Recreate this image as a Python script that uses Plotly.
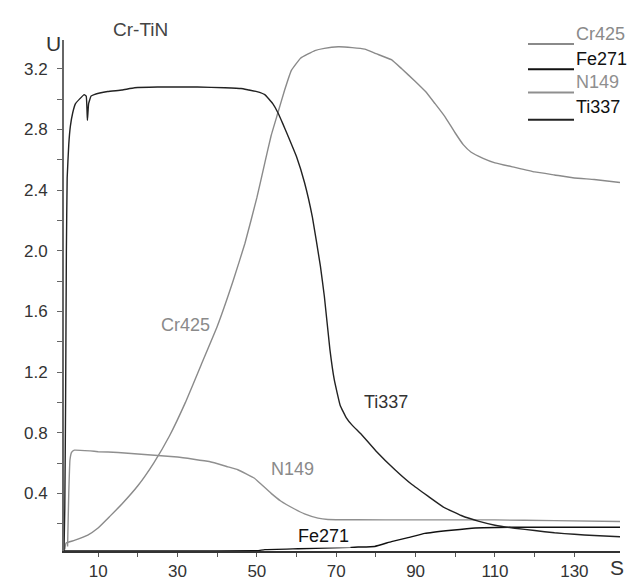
import plotly.graph_objects as go

# ---------------- data ----------------
ti_x = [1.4, 1.6, 1.8, 2.0, 2.2, 2.6, 3.0, 3.6, 4.3, 5.3, 6.5, 7.0, 7.3, 7.6, 8.2, 9.0, 12.4, 16, 19.2, 25, 29.3, 35, 41.9,
        46, 48, 50, 52, 54, 55.3, 56.5, 57.8, 60, 62, 64, 66, 67, 68.4, 69.5, 71, 72.5, 74, 76.3, 80, 84.8, 89, 93.2,
        97, 101.5, 106, 110, 115, 120, 125, 130, 135, 141.5]
ti_y = [0.02, 0.3, 1.0, 2.0, 2.48, 2.7, 2.82, 2.91, 2.97, 3.0, 3.03, 3.02, 2.86, 2.97, 3.02, 3.03, 3.05, 3.06, 3.075, 3.08,
        3.08, 3.08, 3.075, 3.07, 3.06, 3.05, 3.03, 2.97, 2.91, 2.84, 2.76, 2.62, 2.45, 2.22, 1.9, 1.7, 1.35, 1.15, 0.98,
        0.9, 0.85, 0.79, 0.68, 0.556, 0.46, 0.38, 0.31, 0.254, 0.215, 0.19, 0.17, 0.155, 0.14, 0.13, 0.122, 0.114]

cr_x = [1.6, 1.9, 4, 7.4, 9.9, 13, 16, 20, 24, 28, 32, 36, 40, 44, 47, 50, 52, 53.6, 55.3, 57, 58.7, 61, 64.6, 67,
        70.5, 74, 77.2, 80, 83.9, 86.5, 89.8, 92.5, 94.9, 97.5, 99.9, 102, 104, 107, 110, 115, 120, 125, 130, 135, 141.5]
cr_y = [0.03, 0.072, 0.09, 0.125, 0.17, 0.25, 0.33, 0.45, 0.6, 0.78, 1.0, 1.25, 1.5, 1.8, 2.05, 2.35, 2.58, 2.76, 2.91,
        3.06, 3.19, 3.27, 3.32, 3.335, 3.345, 3.34, 3.33, 3.3, 3.26, 3.2, 3.12, 3.05, 2.97, 2.88, 2.78, 2.7, 2.65, 2.61,
        2.58, 2.55, 2.52, 2.5, 2.48, 2.47, 2.45]

n_x = [2.3, 2.6, 2.9, 3.3, 4, 8, 10, 15, 20, 30, 38, 42.7, 45.2, 49.4, 51.5, 53.6, 56, 59.5, 62, 65.4, 67.9, 75, 90,
       110, 125, 141.5]
n_y = [0.05, 0.4, 0.62, 0.67, 0.685, 0.68, 0.675, 0.67, 0.66, 0.64, 0.61, 0.575, 0.556, 0.5, 0.45, 0.4, 0.35, 0.297,
       0.265, 0.237, 0.228, 0.226, 0.225, 0.225, 0.22, 0.215]

fe_x = [1.4, 30, 50, 52, 60.4, 73.8, 75.5, 79.7, 83.9, 88.1, 92.3, 99, 105, 115.9, 125, 141.5]
fe_y = [0.02, 0.02, 0.022, 0.029, 0.035, 0.044, 0.046, 0.05, 0.082, 0.108, 0.136, 0.157, 0.172, 0.177, 0.177, 0.177]

series_names = ["Cr425", "Fe271", "N149", "Ti337"]
series_colors = ["#8a8a8a", "#111111", "#8f8f8f", "#222222"]
legend_text_colors = ["#8a8a8a", "#111111", "#8f8f8f", "#111111"]

curve_label_x = [31.9, 66.7, 58.9, 82.6]
curve_label_y = [1.51, 0.12, 0.56, 1.0]
curve_label_colors = ["#8a8a8a", "#111111", "#8a8a8a", "#333333"]

x_tickvals = list(range(10, 140, 10))
x_ticktext = [str(v) if (v // 10) % 2 == 1 else "" for v in x_tickvals]
y_tickvals = [round(0.2 * i, 1) for i in range(1, 17)]
y_ticktext = [f"{v:.1f}" if round(v / 0.2) % 2 == 0 else "" for v in y_tickvals]

# ---------------- layout geometry (pixels) ----------------
W, H = 635, 585
L, R, T, B = 56, 23, 32, 28
pw, ph = W - L - R, H - T - B

def fx(px):
    return (px - L) / pw

def fy(py):
    return (H - B - py) / ph

FONT = "Arial, Liberation Sans, sans-serif"

fig = go.Figure()
xs = [cr_x, fe_x, n_x, ti_x]
ys = [cr_y, fe_y, n_y, ti_y]
for name, x, y, c in zip(series_names, xs, ys, series_colors):
    fig.add_trace(go.Scatter(x=x, y=y, mode="lines", name=name,
                             line=dict(color=c, width=1.4, shape="spline", smoothing=0.3),
                             showlegend=False, hoverinfo="skip"))

annotations = []
shapes = []
# curve labels
for name, x, y, c in zip(series_names, curve_label_x, curve_label_y, curve_label_colors):
    annotations.append(dict(x=x, y=y, xref="x", yref="y", text=name, showarrow=False,
                            font=dict(family=FONT, size=18, color=c),
                            xanchor="center", yanchor="middle", bgcolor="white"))

# custom legend (top-right)
leg_text_y = [25.5, 51.5, 75, 101]
leg_line_y = [36, 62, 86, 114]
for i, name in enumerate(series_names):
    annotations.append(dict(x=fx(566), y=fy(leg_text_y[i]), xref="paper", yref="paper", text=name,
                            showarrow=False, xanchor="left", yanchor="middle",
                            font=dict(family=FONT, size=18, color=legend_text_colors[i])))
    shapes.append(dict(type="line", xref="paper", yref="paper", x0=fx(520), x1=fx(566),
                       y0=fy(leg_line_y[i]), y1=fy(leg_line_y[i]),
                       line=dict(color=series_colors[i], width=2)))

# title & axis letters
annotations.append(dict(x=fx(132), y=fy(21), xref="paper", yref="paper", text="Cr-TiN", showarrow=False,
                        xanchor="center", yanchor="middle", font=dict(family=FONT, size=19, color="#444444")))
annotations.append(dict(x=fx(45), y=fy(36), xref="paper", yref="paper", text="U", showarrow=False,
                        xanchor="center", yanchor="middle", font=dict(family=FONT, size=21, color="#333333")))
annotations.append(dict(x=fx(609), y=fy(574), xref="paper", yref="paper", text="S", showarrow=False,
                        xanchor="center", yanchor="middle", font=dict(family=FONT, size=21, color="#333333")))

fig.update_layout(
    width=W, height=H,
    margin=dict(l=L, r=R, t=T, b=B, pad=0),
    paper_bgcolor="white", plot_bgcolor="white",
    annotations=annotations, shapes=shapes,
    showlegend=False,
)
fig.update_xaxes(range=[1.4, 141.5], showgrid=False, zeroline=False, showline=True,
                 linecolor="#333333", linewidth=2, ticks="outside", ticklen=4, tickwidth=1,
                 tickcolor="#555555", tickvals=x_tickvals, ticktext=x_ticktext,
                 tickfont=dict(family=FONT, size=17, color="#333333"))
fig.update_yaxes(range=[0.02, 3.39], showgrid=False, zeroline=False, showline=True,
                 linecolor="#666666", linewidth=2, ticks="outside", ticklen=5, tickwidth=1,
                 tickcolor="#666666", tickvals=y_tickvals, ticktext=y_ticktext, ticklabelstandoff=6,
                 tickfont=dict(family=FONT, size=17, color="#333333"))

fig.write_html("out.html")
